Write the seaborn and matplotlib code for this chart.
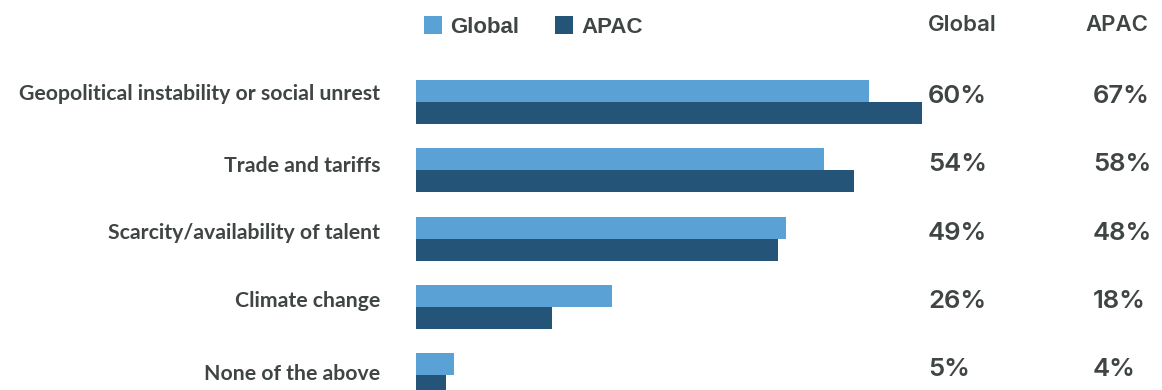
import matplotlib
matplotlib.use("Agg")
import matplotlib.pyplot as plt
import matplotlib.transforms as mtransforms
from matplotlib.patches import Patch
import seaborn as sns
import pandas as pd

categories = ["Geopolitical instability or social unrest", "Trade and tariffs",
              "Scarcity/availability of talent", "Climate change", "None of the above"]
global_vals = [60, 54, 49, 26, 5]
apac_vals = [67, 58, 48, 18, 4]
series = ["Global", "APAC"]
colors = ["#5AA1D5", "#245579"]
text_color = "#3F4543"

df = pd.DataFrame({
    "category": categories * 2,
    "value": global_vals + apac_vals,
    "series": ["Global"] * len(categories) + ["APAC"] * len(categories),
})

sns.set_theme(style="white")
plt.rcParams["font.family"] = ["Lato", "DejaVu Sans"]

W, H = 1162, 390
fig = plt.figure(figsize=(W / 100, H / 100), dpi=100)
ax = fig.add_axes([416 / W, 0, 740 / W, 1])

sns.barplot(data=df, y="category", x="value", hue="series", order=categories,
            hue_order=series, palette=colors, orient="h", width=0.645,
            saturation=1, linewidth=0, ax=ax, legend=False)

ax.set_xlim(0, 98)
ax.set_ylim(4.22, -1.499)
ax.set_xticks([])
ax.set_yticks([])
ax.set_xlabel("")
ax.set_ylabel("")
for s in ax.spines.values():
    s.set_visible(False)

lab_font = ["Lato", "DejaVu Sans"]
# category labels
label_offsets = [-0.12, -0.06, -0.08, -0.08, -0.02]
trans_lab = mtransforms.blended_transform_factory(fig.transFigure, ax.transData)
for i, (cat, off) in enumerate(zip(categories, label_offsets)):
    ax.text(380 / W, i + off, cat, transform=trans_lab, ha="right", va="center",
            fontsize=15.3, fontweight="bold", color=text_color, family=lab_font)

# value columns
val_font = ["Inter", "DejaVu Sans"]
for i, (g, a) in enumerate(zip(global_vals, apac_vals)):
    ax.text(928 / W, i - 0.08, f"{g}%", transform=trans_lab, ha="left", va="center",
            fontsize=18.5, fontweight="semibold", color=text_color, family=val_font)
    ax.text(1093 / W, i - 0.08, f"{a}%", transform=trans_lab, ha="left", va="center",
            fontsize=18.5, fontweight="semibold", color=text_color, family=val_font)

fig.text(928 / W, 1 - 25 / H, "Global", ha="left", va="center", fontsize=16,
         fontweight="semibold", color=text_color, family=val_font)
fig.text(1085 / W, 1 - 25 / H, "APAC", ha="left", va="center", fontsize=16,
         fontweight="semibold", color=text_color, family=val_font)

# legend
handles = [Patch(facecolor=c, edgecolor="none") for c in colors]
leg = fig.legend(handles, series, loc="center left",
                 bbox_to_anchor=(424 / W, 1 - 27 / H), bbox_transform=fig.transFigure,
                 ncol=2, frameon=False, handlelength=0.82, handleheight=0.82,
                 handletextpad=0.36, columnspacing=1.6, borderpad=0, borderaxespad=0,
                 prop={"family": ["Liberation Sans", "DejaVu Sans"], "weight": "bold",
                       "size": 16})
for t in leg.get_texts():
    t.set_color(text_color)

fig.savefig("out.png", dpi=100)
